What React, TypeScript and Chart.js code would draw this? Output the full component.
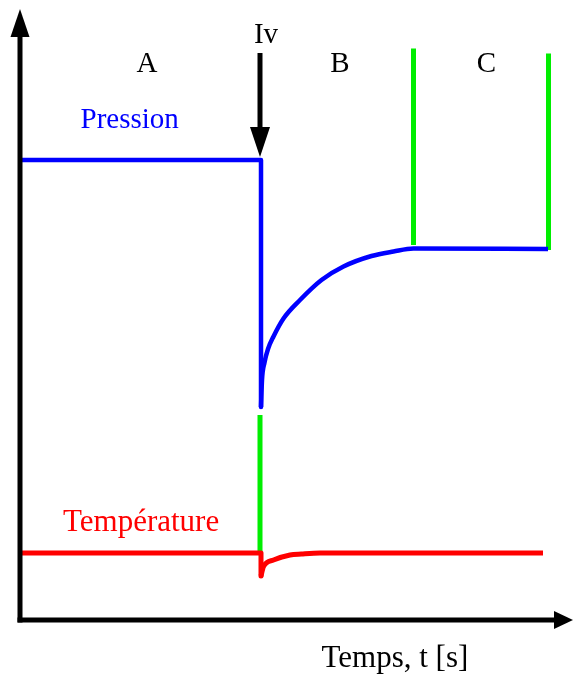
import React, { useEffect, useRef } from "react";
import { Chart, registerables } from "chart.js";

Chart.register(...registerables);

// Time axis (arbitrary units) and signal levels (arbitrary units)
// Pressure: steady phase A, sudden drop at Iv, recovery in phase B, steady in C
const pressureT = [0, 48.2, 48.2, 48.4, 48.9, 49.6, 50.7, 52.7, 56, 60.3, 64.7, 70.3, 74.7, 78.7, 105.6];
const pressureV = [92, 92, 42.6, 48, 51.5, 54.2, 56.7, 60.3, 64, 68, 70.7, 72.8, 73.7, 74.3, 74.2];
const pressureDropCount = 3; // first points: steady level and vertical drop

const tempT = [0.4, 48.2, 48.2, 48.7, 50.7, 54, 56.3, 60, 104.6];
const tempV = [13.4, 13.4, 8.8, 10.7, 12, 13, 13.2, 13.4, 13.4];
const tempDropCount = 3;

// Phase boundaries (green markers): [t, yFrom, yTo]
const markerT = [48, 78.7, 105.7];
const markerFrom = [13, 75, 74];
const markerTo = [41, 114.3, 113.3];

// Labels
const phaseLabels = ["A", "B", "C"];
const phaseLabelT = [25.4, 64, 93.3];
const phaseLabelV = 109.6;

const X_MAX = 110.6;
const Y_MAX = 122;

const ivT = 48;
const ivFrom = 113.4;
const ivTo = 92.6;

const SERIF = '"Liberation Serif", "Times New Roman", serif';

const overlayPlugin = {
  id: "overlay",
  afterDatasetsDraw(chart: any) {
    const { ctx, scales } = chart;
    const xs = scales.x;
    const ys = scales.y;
    const px = (v: number) => xs.getPixelForValue(v);
    const py = (v: number) => ys.getPixelForValue(v);
    ctx.save();

    // Axes with arrows
    const ox = px(0);
    const oy = py(0);
    ctx.strokeStyle = "#000";
    ctx.fillStyle = "#000";
    ctx.lineWidth = 5;
    ctx.lineCap = "butt";
    ctx.beginPath();
    ctx.moveTo(ox, oy + 2.5);
    ctx.lineTo(ox, py(Y_MAX) + 20);
    ctx.stroke();
    ctx.beginPath();
    ctx.moveTo(ox - 2.5, oy);
    ctx.lineTo(px(X_MAX) - 15, oy);
    ctx.stroke();
    // y arrow head
    ctx.beginPath();
    ctx.moveTo(ox, py(Y_MAX) - 1);
    ctx.lineTo(ox - 9.5, py(Y_MAX) + 27);
    ctx.lineTo(ox + 9.5, py(Y_MAX) + 27);
    ctx.closePath();
    ctx.fill();
    // x arrow head
    ctx.beginPath();
    ctx.moveTo(px(X_MAX), oy);
    ctx.lineTo(px(X_MAX) - 19, oy - 9);
    ctx.lineTo(px(X_MAX) - 19, oy + 9);
    ctx.closePath();
    ctx.fill();

    // Iv arrow
    const ax = px(ivT);
    ctx.beginPath();
    ctx.moveTo(ax, py(ivFrom));
    ctx.lineTo(ax, py(ivTo) - 25);
    ctx.stroke();
    ctx.beginPath();
    ctx.moveTo(ax, py(ivTo));
    ctx.lineTo(ax - 10, py(ivTo) - 30);
    ctx.lineTo(ax + 10, py(ivTo) - 30);
    ctx.closePath();
    ctx.fill();

    // Texts
    ctx.textBaseline = "alphabetic";
    ctx.textAlign = "center";
    ctx.fillStyle = "#000";
    ctx.font = "29px " + SERIF;
    phaseLabels.forEach((l, i) => {
      ctx.fillText(l, px(phaseLabelT[i]), py(phaseLabelV));
    });
    ctx.fillText("Iv", px(ivT) + 6, py(ivFrom) - 10);

    ctx.textAlign = "left";
    ctx.fillStyle = "#0000ff";
    ctx.font = "29px " + SERIF;
    ctx.fillText("Pression", px(12.1), py(98.4));
    ctx.fillStyle = "#ff0000";
    ctx.font = "31px " + SERIF;
    ctx.fillText("Température", px(8.6), py(17.8));
    ctx.fillStyle = "#000";
    ctx.fillText("Temps, t [s]", px(60.3), py(-9.3));
    ctx.restore();
  },
};

export default function App() {
  const ref = useRef<HTMLCanvasElement | null>(null);

  useEffect(() => {
    document.body.style.margin = "0";
    const canvas = ref.current;
    if (!canvas) return;
    const pts = (ts: number[], vs: number[]) => ts.map((t, i) => ({ x: t, y: vs[i] }));
    const markerSets = markerT.map((t, i) => ({
      label: "phase" + i,
      data: [
        { x: t, y: markerFrom[i] },
        { x: t, y: markerTo[i] },
      ],
      borderColor: "#00ee00",
      borderWidth: 5,
      pointRadius: 0,
      order: 3,
    }));
    const chart = new Chart(canvas, {
      type: "line",
      data: {
        datasets: [
          {
            label: "Pression",
            data: pts(pressureT.slice(0, pressureDropCount), pressureV.slice(0, pressureDropCount)),
            borderColor: "#0000ff",
            borderWidth: 4.5,
            pointRadius: 0,
            tension: 0,
            order: 1,
          },
          {
            label: "Pression (recovery)",
            data: pts(pressureT.slice(pressureDropCount - 1), pressureV.slice(pressureDropCount - 1)),
            borderColor: "#0000ff",
            borderWidth: 4.5,
            pointRadius: 0,
            cubicInterpolationMode: "monotone",
            order: 1,
          },
          {
            label: "Température",
            data: pts(tempT.slice(0, tempDropCount), tempV.slice(0, tempDropCount)),
            borderColor: "#ff0000",
            borderWidth: 5,
            pointRadius: 0,
            tension: 0,
            order: 2,
          },
          {
            label: "Température (recovery)",
            data: pts(tempT.slice(tempDropCount - 1), tempV.slice(tempDropCount - 1)),
            borderColor: "#ff0000",
            borderWidth: 5,
            pointRadius: 0,
            cubicInterpolationMode: "monotone",
            order: 2,
          },
          ...markerSets,
        ] as any,
      },
      options: {
        animation: false,
        responsive: false,
        devicePixelRatio: 1,
        layout: { padding: { left: 20, right: 0, top: 10, bottom: 60 } },
        plugins: { legend: { display: false }, tooltip: { enabled: false } },
        elements: { line: { borderJoinStyle: "round", borderCapStyle: "butt" } },
        scales: {
          x: { type: "linear", min: 0, max: X_MAX, display: false },
          y: { type: "linear", min: 0, max: Y_MAX, display: false },
        },
      } as any,
      plugins: [overlayPlugin],
    });
    return () => chart.destroy();
  }, []);

  return (
    <div style={{ position: "fixed", left: 0, top: 0, width: 573, height: 680, background: "#fff" }}>
      <canvas ref={ref} width={573} height={680} style={{ display: "block" }} />
    </div>
  );
}
